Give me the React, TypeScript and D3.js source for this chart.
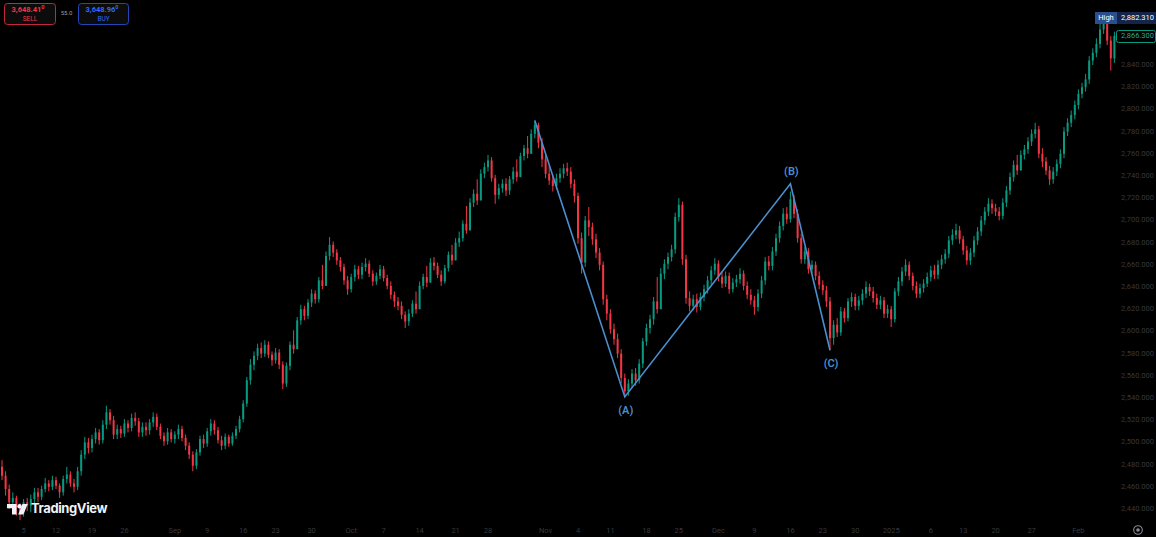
import React from 'react';
import * as d3 from 'd3';

// 12h candles, open of each bar = close of the bar before it
const firstOpen = 2478;
const closes = [
  2470, 2458, 2446, 2450, 2441, 2437, 2446, 2443, 2449, 2455,
  2451, 2458, 2463, 2460, 2466, 2461, 2455, 2467, 2471, 2463,
  2460, 2474, 2489, 2500, 2495, 2503, 2509, 2502, 2516, 2527,
  2520, 2507, 2512, 2508, 2517, 2513, 2522, 2519, 2509, 2514,
  2511, 2518, 2523, 2514, 2506, 2501, 2509, 2503, 2507, 2512,
  2504, 2497, 2489, 2479, 2491, 2503, 2499, 2510, 2517, 2511,
  2502, 2497, 2505, 2499, 2506, 2512, 2521, 2535, 2556, 2570,
  2578, 2585, 2580, 2588, 2579, 2574, 2581, 2570, 2553, 2569,
  2588, 2584, 2610, 2620, 2614, 2626, 2634, 2629, 2646, 2641,
  2668, 2678, 2671, 2664, 2658, 2646, 2638, 2649, 2656, 2651,
  2658, 2661, 2652, 2645, 2650, 2656, 2648, 2641, 2633, 2627,
  2623, 2615, 2609, 2616, 2625, 2620, 2641, 2649, 2644, 2662,
  2659, 2651, 2645, 2657, 2669, 2664, 2680, 2684, 2697, 2691,
  2716, 2724, 2718, 2742, 2748, 2754, 2738, 2723, 2729, 2733,
  2727, 2737, 2744, 2739, 2758, 2765, 2760, 2778, 2786, 2770,
  2755, 2742, 2736, 2731, 2738, 2742, 2747, 2744, 2733, 2722,
  2684, 2662, 2700, 2694, 2683, 2671, 2660, 2629, 2616, 2602,
  2593, 2580, 2558, 2546, 2553, 2562, 2556, 2571, 2591, 2603,
  2611, 2627, 2620, 2652, 2661, 2667, 2674, 2703, 2714, 2665,
  2630, 2623, 2629, 2622, 2631, 2638, 2646, 2655, 2661, 2649,
  2643, 2650, 2638, 2644, 2647, 2652, 2641, 2633, 2628, 2622,
  2634, 2646, 2663, 2659, 2672, 2684, 2695, 2706, 2701, 2719,
  2706, 2684, 2665, 2672, 2656, 2660, 2650, 2642, 2637, 2627,
  2594, 2606, 2599, 2618, 2612, 2627, 2631, 2623, 2628, 2634,
  2640, 2636, 2630, 2624, 2628, 2616, 2620, 2611, 2636, 2645,
  2654, 2660, 2650, 2641, 2634, 2639, 2643, 2649, 2655, 2651,
  2660, 2665, 2670, 2682, 2687, 2691, 2683, 2673, 2664, 2671,
  2682, 2690, 2700, 2708, 2715, 2711, 2708, 2704, 2716, 2727,
  2739, 2750, 2745, 2759, 2764, 2771, 2778, 2782, 2760, 2753,
  2745, 2737, 2744, 2751, 2760, 2780, 2788, 2795, 2804, 2814,
  2820, 2827, 2844, 2851, 2859, 2872, 2877, 2862, 2846, 2866.3,
];
const highs = [
  2484, 2474, 2462, 2455, 2452, 2445, 2449, 2450, 2453, 2459,
  2459, 2461, 2468, 2466, 2470, 2469, 2463, 2470, 2478, 2474,
  2467, 2478, 2493, 2505, 2504, 2507, 2513, 2512, 2520, 2533,
  2530, 2524, 2516, 2515, 2521, 2520, 2526, 2527, 2522, 2518,
  2518, 2521, 2527, 2526, 2517, 2509, 2513, 2512, 2510, 2516,
  2515, 2507, 2500, 2492, 2494, 2506, 2507, 2513, 2521, 2520,
  2514, 2506, 2508, 2507, 2509, 2515, 2524, 2538, 2559, 2575,
  2582, 2589, 2590, 2592, 2591, 2582, 2585, 2584, 2573, 2572,
  2591, 2601, 2613, 2624, 2623, 2629, 2638, 2637, 2649, 2660,
  2672, 2685, 2681, 2674, 2667, 2661, 2650, 2652, 2660, 2659,
  2662, 2666, 2664, 2655, 2653, 2660, 2659, 2651, 2645, 2636,
  2631, 2627, 2618, 2620, 2628, 2636, 2645, 2652, 2659, 2666,
  2667, 2662, 2655, 2660, 2672, 2678, 2684, 2690, 2700, 2713,
  2720, 2728, 2737, 2746, 2752, 2759, 2757, 2741, 2733, 2737,
  2738, 2740, 2748, 2755, 2761, 2768, 2776, 2782, 2790, 2788,
  2774, 2759, 2749, 2741, 2742, 2747, 2751, 2752, 2748, 2737,
  2725, 2689, 2704, 2712, 2698, 2688, 2675, 2663, 2633, 2620,
  2607, 2598, 2584, 2562, 2557, 2566, 2567, 2575, 2594, 2607,
  2615, 2631, 2649, 2657, 2665, 2671, 2678, 2707, 2720, 2717,
  2669, 2636, 2633, 2634, 2635, 2642, 2650, 2659, 2666, 2664,
  2654, 2654, 2653, 2648, 2651, 2657, 2655, 2645, 2638, 2632,
  2638, 2650, 2667, 2668, 2676, 2688, 2699, 2711, 2712, 2726,
  2723, 2710, 2688, 2676, 2675, 2664, 2663, 2654, 2646, 2641,
  2631, 2610, 2612, 2622, 2621, 2630, 2635, 2634, 2632, 2638,
  2645, 2643, 2640, 2634, 2632, 2631, 2624, 2623, 2639, 2649,
  2658, 2665, 2663, 2653, 2645, 2643, 2647, 2653, 2659, 2660,
  2664, 2669, 2674, 2686, 2692, 2697, 2695, 2686, 2677, 2675,
  2686, 2694, 2704, 2712, 2720, 2719, 2715, 2712, 2720, 2731,
  2743, 2754, 2759, 2763, 2768, 2775, 2782, 2788, 2785, 2765,
  2757, 2749, 2748, 2755, 2764, 2784, 2792, 2799, 2808, 2818,
  2824, 2832, 2848, 2855, 2864, 2878, 2882.31, 2880, 2866, 2870,
];
const lows = [
  2466, 2452, 2440, 2438, 2434, 2430, 2433, 2438, 2437, 2445,
  2446, 2448, 2455, 2456, 2457, 2458, 2450, 2452, 2463, 2460,
  2455, 2457, 2470, 2485, 2490, 2491, 2499, 2498, 2499, 2512,
  2516, 2503, 2503, 2504, 2505, 2509, 2510, 2515, 2505, 2505,
  2506, 2507, 2514, 2511, 2503, 2497, 2498, 2500, 2499, 2503,
  2501, 2493, 2485, 2474, 2476, 2488, 2495, 2496, 2506, 2507,
  2499, 2493, 2494, 2496, 2497, 2503, 2509, 2518, 2532, 2552,
  2565, 2574, 2576, 2577, 2576, 2569, 2571, 2566, 2548, 2550,
  2565, 2580, 2593, 2606, 2610, 2611, 2622, 2625, 2626, 2638,
  2651, 2664, 2667, 2660, 2654, 2642, 2633, 2635, 2645, 2647,
  2647, 2654, 2649, 2641, 2642, 2647, 2645, 2638, 2629, 2622,
  2619, 2611, 2603, 2605, 2613, 2616, 2630, 2638, 2640, 2652,
  2655, 2648, 2641, 2643, 2654, 2660, 2670, 2676, 2681, 2688,
  2704, 2712, 2714, 2729, 2738, 2744, 2735, 2715, 2719, 2725,
  2722, 2723, 2733, 2735, 2747, 2754, 2756, 2768, 2774, 2765,
  2748, 2738, 2732, 2726, 2728, 2734, 2738, 2740, 2729, 2716,
  2679, 2652, 2658, 2686, 2678, 2666, 2655, 2624, 2610, 2598,
  2588, 2576, 2553, 2541, 2542, 2549, 2551, 2553, 2567, 2587,
  2598, 2606, 2616, 2640, 2647, 2656, 2663, 2670, 2699, 2660,
  2625, 2618, 2619, 2617, 2619, 2627, 2634, 2642, 2651, 2645,
  2639, 2640, 2634, 2635, 2640, 2643, 2637, 2629, 2624, 2615,
  2618, 2630, 2642, 2655, 2655, 2668, 2680, 2691, 2697, 2698,
  2702, 2680, 2661, 2661, 2652, 2652, 2646, 2638, 2633, 2622,
  2583, 2588, 2595, 2596, 2608, 2609, 2622, 2619, 2619, 2624,
  2630, 2632, 2626, 2620, 2620, 2612, 2612, 2604, 2608, 2632,
  2641, 2650, 2646, 2637, 2630, 2630, 2635, 2640, 2645, 2647,
  2647, 2656, 2661, 2666, 2678, 2683, 2679, 2669, 2660, 2660,
  2667, 2678, 2686, 2696, 2704, 2706, 2704, 2700, 2701, 2712,
  2723, 2735, 2741, 2750, 2755, 2760, 2767, 2774, 2756, 2748,
  2741, 2732, 2733, 2740, 2747, 2756, 2776, 2784, 2791, 2800,
  2810, 2816, 2823, 2840, 2847, 2855, 2868, 2858, 2835, 2842,
];

const priceTicks = d3.range(2440, 2841, 20);
const timeLabels = ['5', '12', '19', '26', 'Sep', '9', '16', '23', '30', 'Oct', '7', '14', '21', '28', 'Nov', '4', '11', '18', '25', 'Dec', '9', '16', '23', '30', '2025', '6', '13', '20', '27', 'Feb'];
const timeLabelBars = [6, 15, 25, 34, 48, 57, 67, 76, 86, 97, 106, 116, 126, 135, 151, 160, 169, 179, 188, 199, 209, 219, 228, 237, 247, 258, 267, 276, 286, 299];

const waveBars = [148, 173, 219, 230];
const wavePrices = [2790, 2541, 2733, 2583];
const waveNames = ['', '(A)', '(B)', '(C)'];

const sessionHigh = 2882.31;
const lastPrice = 2866.3;
const sellPrice = '3,648.41';
const buyPrice = '3,648.96';
const spread = '55.0';

const W = 1156;
const H = 537;
const UP = '#089981';
const DOWN = '#f23645';
const WAVE = '#4a8fd0';
const AXIS_TXT = '#38383c';
const FONT = "Roboto, 'Noto Sans', sans-serif";

const App: React.FC = () => {
  const x = d3.scaleLinear().domain([0, closes.length - 1]).range([2, 1114.4]);
  const y = d3.scaleLinear().domain([2440, 2840]).range([509, 65]);
  const fmt = d3.format(',.3f');

  const candles = closes.map((c, i) => {
    const o = i === 0 ? firstOpen : closes[i - 1];
    const h = Math.max(highs[i], o, c);
    const l = Math.min(lows[i], o, c);
    return { i, o, h, l, c };
  });

  const waveLine = d3
    .line<number>()
    .x((_, k) => x(waveBars[k]))
    .y((p) => y(p));

  const bw = 2;

  return (
    <svg width={W} height={H} style={{ position: 'absolute', left: 0, top: 0, display: 'block' }} fontFamily={FONT}>
      <rect width={W} height={H} fill="#000" />

      {candles.map((d) => {
        const col = d.c >= d.o ? UP : DOWN;
        const cx = x(d.i);
        const top = y(Math.max(d.o, d.c));
        const bot = y(Math.min(d.o, d.c));
        return (
          <g key={d.i}>
            <line x1={cx} x2={cx} y1={y(d.h)} y2={y(d.l)} stroke={col} strokeWidth={1} />
            <rect x={cx - bw / 2} y={top} width={bw} height={Math.max(1, bot - top)} fill={col} />
          </g>
        );
      })}

      {/* ABC correction */}
      <path d={waveLine(wavePrices) || ''} fill="none" stroke={WAVE} strokeWidth={1.6} strokeLinejoin="miter" />
      {waveNames.map((n, k) =>
        n ? (
          <text
            key={n}
            x={x(waveBars[k]) + 1}
            y={y(wavePrices[k]) + (k % 2 === 1 ? 14 : -12)}
            fill={WAVE}
            fontSize={11}
            fontWeight={600}
            textAnchor="middle"
            dominantBaseline="middle"
          >
            {n}
          </text>
        ) : null
      )}

      {/* price axis */}
      {priceTicks.map((p) => (
        <text key={p} x={1154} y={y(p)} fill={AXIS_TXT} fontSize={7.5} textAnchor="end" dominantBaseline="middle">
          {fmt(p)}
        </text>
      ))}

      {/* time axis */}
      {timeLabels.map((t, k) => (
        <text key={k} x={x(timeLabelBars[k])} y={531} fill={AXIS_TXT} fontSize={7.5} textAnchor="middle" dominantBaseline="middle">
          {t}
        </text>
      ))}

      {/* high marker */}
      <rect x={1095} y={12} width={22} height={12} fill="#2b4f8e" />
      <text x={1106} y={18.5} fill="#fff" fontSize={7.5} textAnchor="middle" dominantBaseline="middle">High</text>
      <rect x={1117} y={12} width={39} height={12} fill="#13254a" />
      <text x={1154} y={18.5} fill="#fff" fontSize={7.5} textAnchor="end" dominantBaseline="middle">{fmt(sessionHigh)}</text>

      {/* last price label */}
      <rect x={1116.5} y={30.5} width={39} height={12} rx={2} fill="#000" stroke={UP} strokeWidth={1} />
      <text x={1154} y={y(lastPrice) + 0.5} fill="#22ab94" fontSize={7.5} textAnchor="end" dominantBaseline="middle">{fmt(lastPrice)}</text>

      {/* sell / buy */}
      <rect x={4.5} y={3.5} width={51} height={21} rx={3} fill="#0c0c0c" stroke="#c4263a" />
      <text x={28} y={10} fill={DOWN} fontSize={7.5} fontWeight={700} textAnchor="middle" dominantBaseline="middle">
        {sellPrice}
        <tspan fontSize={5.5} dy={-2}>0</tspan>
      </text>
      <text x={30} y={19} fill={DOWN} fontSize={6.5} textAnchor="middle" dominantBaseline="middle">SELL</text>
      <text x={66.5} y={13.5} fill="#9a9ca3" fontSize={6} textAnchor="middle" dominantBaseline="middle">{spread}</text>
      <rect x={78.5} y={3.5} width={50} height={21} rx={3} fill="#0c0c0c" stroke="#2447b8" />
      <text x={102} y={10} fill="#2f6bff" fontSize={7.5} fontWeight={700} textAnchor="middle" dominantBaseline="middle">
        {buyPrice}
        <tspan fontSize={5.5} dy={-2}>0</tspan>
      </text>
      <text x={103.5} y={19} fill="#2f6bff" fontSize={6.5} textAnchor="middle" dominantBaseline="middle">BUY</text>

      {/* logo */}
      <g fill="#f0f3fa">
        <path d="M7,504 h9.5 v10.5 h-4.5 v-6.2 h-5 z" />
        <circle cx={19.6} cy={506.2} r={2.2} />
        <path d="M22.5,504 h5.2 l-4.3,10.5 h-5.2 z" />
      </g>
      <text x={31} y={509.5} fill="#f0f3fa" fontSize={13} fontWeight={700} fontFamily="Inter, 'Open Sans', sans-serif" dominantBaseline="middle" letterSpacing={-0.4}>
        TradingView
      </text>

      {/* settings */}
      <circle cx={1138} cy={530} r={4.3} fill="none" stroke="#8a8d95" strokeWidth={1.1} />
      <circle cx={1138} cy={530} r={1.8} fill="#8a8d95" />
    </svg>
  );
};

export default App;
